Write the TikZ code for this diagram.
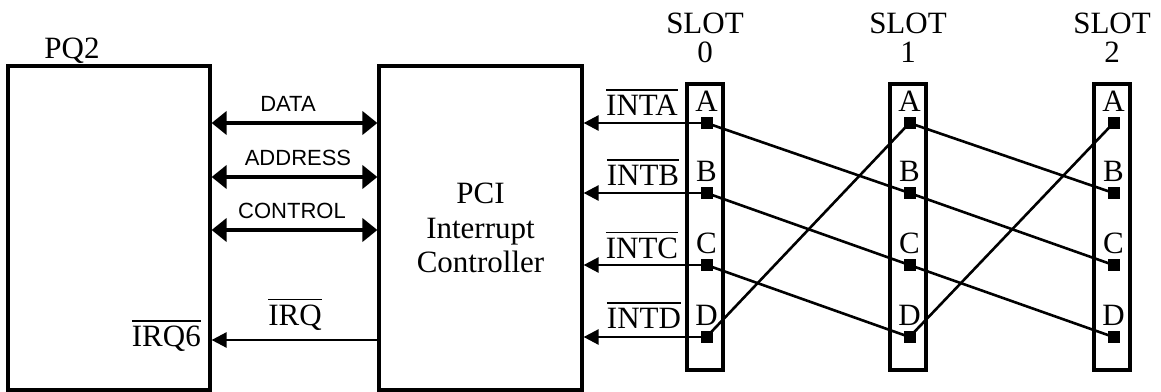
\documentclass[tikz,border=0pt]{standalone}
\usepackage{fontspec}
\setmainfont{Liberation Serif}
\setsansfont{Liberation Sans}
\usetikzlibrary{arrows.meta}
\newcommand{\ovl}[1]{\leavevmode\vbox{\hrule height 1.8pt\kern 4pt\hbox{#1}}}
\begin{document}
\begin{tikzpicture}[x=1pt,y=-1pt]
		\tikzstyle{every node}=[font=\fontsize{31}{29}\selectfont,inner sep=0pt]
		\tikzstyle{box}=[draw,line width=3.2pt,rectangle]
		\tikzstyle{bus}=[line width=4.5pt,{Triangle[length=15pt,width=23pt]}-{Triangle[length=15pt,width=23pt]}]
		\tikzstyle{sig}=[line width=2.6pt,-{Triangle[length=15pt,width=15pt]}]
		\tikzstyle{busl}=[font=\sffamily\fontsize{22}{26}\selectfont,anchor=base]
		\tikzstyle{pin}=[fill=black,rectangle,minimum size=12pt]
		\tikzstyle{wire}=[line width=2.6pt]
		\useasboundingbox (0,0) rectangle (1161,391);
		% blocks
		\node[box,minimum width=202pt,minimum height=324pt] (pq2) at (109,228) {};
		\node[anchor=base] (pq2l) at (72,58) {PQ2};
		\node[box,minimum width=203pt,minimum height=324pt,align=center,font=\fontsize{31}{34.5}\selectfont] (pci) at (480.5,228) {PCI\\Interrupt\\Controller};
		% buses
		\foreach \y/\t/\lx in {123/DATA/288,177/ADDRESS/298,230/CONTROL/292}{
			\draw[bus] (pq2.east |- 0,\y) -- (pci.west |- 0,\y);
			\node[busl] (l\t) at (\lx,\y-11.5) {\t};
		}
		\draw[sig] (pci.west |- 0,340) -- (pq2.east |- 0,340);
		\node[anchor=base] (irq) at (295,325) {\ovl{IRQ}};
		\node[anchor=base east] (irqsix) at (201,346.7) {\ovl{IRQ6}};
		% slots
		\foreach \s/\x in {0/705,1/908,2/1112}{
			\node[box,minimum width=36pt,minimum height=286pt] (slot\s) at (\x,227) {};
			\node[align=center] (slotl\s) at (\x,38) {SLOT\\\s};
			\foreach \p/\y in {A/123,B/193,C/265,D/337}{
				\node[pin] (p\s\p) at (\x+1.5,\y) {};
				\node[anchor=base] (pl\s\p) at (\x+1.5,\y-12) {\p};
			}
		}
		% interrupt lines
		\foreach \p in {A,B,C,D}
			\draw[sig] (p0\p.center) -- (pci.east |- p0\p);
		\node[anchor=base] (intA) at (642,115) {\ovl{INTA}};
		\node[anchor=base] (intB) at (643,185) {\ovl{INTB}};
		\node[anchor=base] (intC) at (642,258) {\ovl{INTC}};
		\node[anchor=base] (intD) at (644,328) {\ovl{INTD}};
		% rotation between slots
		\foreach \a/\b in {A/B,B/C,C/D,D/A}{
			\draw[wire] (p0\a.center) -- (p1\b.center);
			\draw[wire] (p1\a.center) -- (p2\b.center);
		}
\end{tikzpicture}
\end{document}
